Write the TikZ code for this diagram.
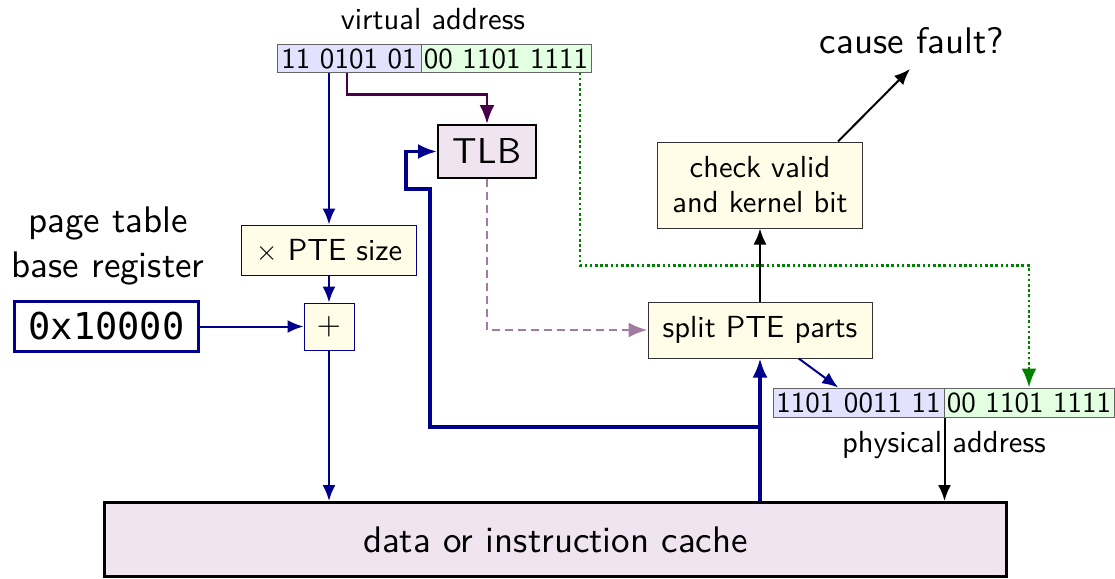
\documentclass[tikz,border=0pt]{standalone}
\usepackage{fontspec}
\setmainfont{lmsans10-regular.otf}
\newfontfamily\symfont{lmroman10-regular.otf}
\newfontfamily\monofont{DejaVu Sans Mono}
\usetikzlibrary{arrows.meta}

\definecolor{navy}{RGB}{0,0,140}
\definecolor{plum}{RGB}{72,0,72}
\definecolor{mauve}{RGB}{160,124,160}
\definecolor{leaf}{RGB}{0,130,0}
\definecolor{cream}{RGB}{255,252,232}
\definecolor{lilac}{RGB}{240,228,240}
\definecolor{bitsblue}{RGB}{226,226,255}
\definecolor{bitsgreen}{RGB}{226,255,226}

\tikzset{
  txt/.style={font=\fontsize{30.5}{35}\selectfont},
  bigtxt/.style={font=\fontsize{37}{45}\selectfont},
  bits/.style={draw=black!60, line width=1pt, inner sep=0pt, minimum height=27,
    font=\fontsize{29}{29}\selectfont},
  stage/.style={draw=black!80, line width=1pt, fill=cream, inner sep=0pt, txt, align=center},
  calc box/.style={draw=navy, line width=1pt, fill=cream, inner sep=0pt, txt},
  arS/.style={-{Latex[length=16pt,width=13pt]}},
  arM/.style={-{Latex[length=19pt,width=15pt]}},
  thin blue/.style={navy, line width=2pt, arS},
  thick blue/.style={navy, line width=3.2pt, arM},
  thin black/.style={black, line width=2pt, arS},
}

\begin{document}
\begin{tikzpicture}[x=1pt,y=-1pt]
\useasboundingbox (0,0) rectangle (1115,578);

% virtual address
\node[txt, anchor=base] (valabel) at (433,30) {virtual address};
\node[bits, fill=bitsblue, minimum width=144] (vaL) at (349,58.5) {11 0101 01};
\node[bits, fill=bitsgreen, minimum width=170] (vaR) at (506,58.5) {00 1101 1111};

% TLB
\node[draw, line width=2pt, fill=lilac, minimum width=98, minimum height=53,
      inner sep=0pt, font=\fontsize{36}{36}\selectfont] (tlb) at (487,151.5) {TLB};

% page table lookup
\node[calc box, minimum width=175, minimum height=50] (ptesize) at (329,250)
  {{\symfont\fontsize{28}{28}\selectfont ×} PTE size};
\node[calc box, minimum width=50, minimum height=47, font=\symfont\fontsize{31}{31}\selectfont]
  (plus) at (329,326.5) {+};
\node[bigtxt, align=center, anchor=north, inner sep=0pt] (ptbr) at (108,207) {page table\\base register};
\node[draw=navy, line width=3.5pt, minimum width=184, minimum height=50, inner sep=0pt,
      font=\monofont\fontsize{37}{37}\selectfont] (base) at (106.5,326.5) {0x10000};

% cache
\node[draw, line width=3pt, fill=lilac, minimum width=902, minimum height=74,
      inner sep=0pt, bigtxt] (cache) at (555.5,539.5) {data or instruction cache};

% PTE handling
\node[stage, minimum width=224, minimum height=56] (split) at (760,330) {split PTE parts};
\node[stage, minimum width=205, minimum height=86] (check) at (760,185) {check valid\\and kernel bit};
\node[bigtxt, anchor=base] (cause) at (912,53) {cause fault?};
\coordinate (faulttip) at (910,69);

% physical address
\node[bits, fill=bitsblue, minimum width=171, minimum height=29] (paL) at (858.5,402.5) {1101 0011 11};
\node[bits, fill=bitsgreen, minimum width=170, minimum height=29] (paR) at (1029,402.5) {00 1101 1111};
\node[txt, anchor=base] (palabel) at (944,452) {physical address};

% connectors
\draw[thin blue] (vaL.south -| ptesize.north) -- (ptesize.north);
\draw[thin blue] (ptesize) -- (plus);
\draw[thin blue] (base) -- (plus);
\draw[thin blue] (plus) -- (plus |- cache.north);

\draw[plum, line width=2.6pt, arM] ([xshift=-2pt]vaL.south) -- ++(0,22) -| (tlb.north);
\draw[mauve, line width=2.6pt, dash pattern=on 8pt off 5pt, arM] (tlb.south) |- (split.west);

\coordinate (j) at (760,427);
\draw[thick blue] (split.south |- cache.north) -- (split.south);
\draw[thick blue] (j) -- ++(-330,0) -- ++(0,-238) -- ++(-24,0) |- (tlb.west);

\draw[thin black] (split) -- (check);
\draw[thin black] ([xshift=-25pt]check.north east) -- (faulttip);

\draw[leaf, line width=2.6pt, dash pattern=on 2.6pt off 2.6pt, arM]
  ([xshift=74pt]vaR.south) -- ++(0,193) -| (paR.north);

\draw[thin blue] (split) -- (paL);
\draw[thin black] (paL.south east) -- (paL.south east |- cache.north);
\end{tikzpicture}
\end{document}
